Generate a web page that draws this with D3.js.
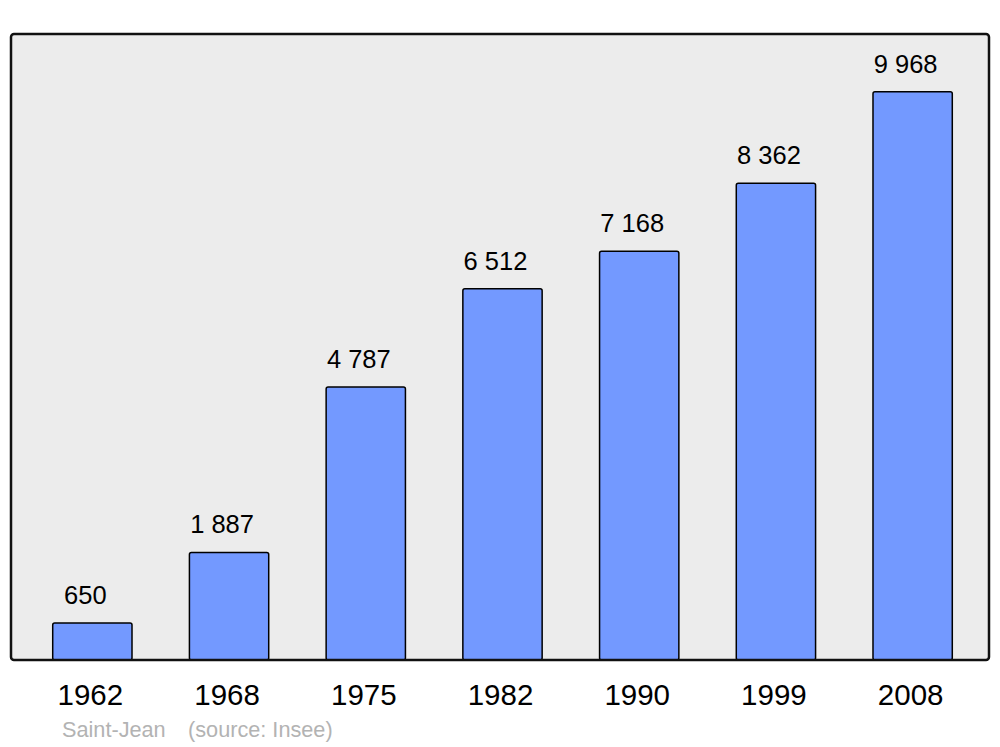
<!DOCTYPE html>
<html>
<head>
<meta charset="utf-8">
<script src="https://cdn.jsdelivr.net/npm/d3@7"></script>
<style>
  body { margin: 0; background: #fff; }
  text { font-family: "Liberation Sans", Arial, sans-serif; }
</style>
</head>
<body>
<svg id="vis" width="1000" height="747"></svg>
<script>
let years = ["1962", "1968", "1975", "1982", "1990", "1999", "2008"];
let population = [650, 1887, 4787, 6512, 7168, 8362, 9968];
let commune = "Saint-Jean";
let source = "(source: Insee)";

function drawChart() {
  let svg = d3.select("#vis");
  let frame = { left: 11, right: 989, top: 34, bottom: 660 };

  let x = d3.scaleBand()
            .domain(years)
            .range([24, 981])
            .paddingInner(0.42)
            .paddingOuter(0.21);

  let y = d3.scaleLinear()
            .domain([0, 10980])
            .range([frame.bottom, frame.top]);

  // frame background
  svg.append("rect")
    .attr("x", frame.left)
    .attr("y", frame.top)
    .attr("width", frame.right - frame.left)
    .attr("height", frame.bottom - frame.top)
    .attr("rx", 3)
    .attr("fill", "#ececec");

  let data = years.map((yr, i) => ({ year: yr, value: population[i] }));

  svg.append("g").selectAll("rect")
    .data(data)
    .enter()
    .append("rect")
    .attr("x", d => x(d.year))
    .attr("y", d => y(d.value))
    .attr("width", x.bandwidth())
    .attr("height", d => y(0) - y(d.value))
    .attr("rx", 2)
    .attr("fill", "#7399ff")
    .attr("stroke", "#000")
    .attr("stroke-width", 1.5);

  // value labels, french thousands separator
  let fmt = v => d3.format(",")(v).replace(",", " ");
  svg.append("g").selectAll("text")
    .data(data)
    .enter()
    .append("text")
    .attr("x", d => x(d.year) + x.bandwidth() / 2 - 7)
    .attr("y", d => y(d.value) - 19)
    .attr("text-anchor", "middle")
    .attr("font-size", "25.5px")
    .attr("fill", "#000")
    .text(d => fmt(d.value));

  // frame border on top
  svg.append("rect")
    .attr("x", frame.left)
    .attr("y", frame.top)
    .attr("width", frame.right - frame.left)
    .attr("height", frame.bottom - frame.top)
    .attr("rx", 3)
    .attr("fill", "none")
    .attr("stroke", "#111")
    .attr("stroke-width", 2.5);

  // year axis labels
  let xAxis = d3.axisBottom(x).tickSize(0).tickPadding(0);
  let ax = svg.append("g")
    .attr("transform", `translate(0, ${frame.bottom})`)
    .call(xAxis);
  ax.select(".domain").remove();
  ax.selectAll("text")
    .attr("dy", null)
    .attr("x", -2)
    .attr("y", 45)
    .attr("font-size", "29.5px")
    .attr("font-family", "'Liberation Sans', Arial, sans-serif")
    .attr("fill", "#000");

  svg.append("text")
    .attr("x", 62)
    .attr("y", 737)
    .attr("font-size", "21.7px")
    .attr("fill", "#b3b3b3")
    .text(commune);

  svg.append("text")
    .attr("x", 188)
    .attr("y", 737)
    .attr("font-size", "21.7px")
    .attr("fill", "#b3b3b3")
    .text(source);
}

drawChart();
</script>
</body>
</html>
